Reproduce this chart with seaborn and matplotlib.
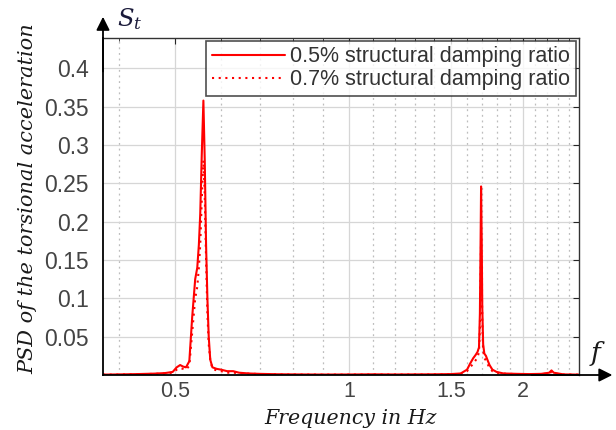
import numpy as np
import pandas as pd
import matplotlib
matplotlib.use("Agg")
import matplotlib.pyplot as plt
from matplotlib.ticker import FixedLocator, NullFormatter
import seaborn as sns

# Frequency grid (Hz) and PSD of the torsional acceleration for two damping ratios
freq = [0.375, 0.40, 0.43, 0.46, 0.48, 0.495, 0.503, 0.510, 0.516, 0.522,
        0.529, 0.535, 0.5415, 0.546, 0.5495, 0.5525, 0.556, 0.5595, 0.5625, 0.5655,
        0.5685, 0.5715, 0.575, 0.58, 0.59, 0.60, 0.615, 0.63, 0.645, 0.67,
        0.70, 0.75, 0.80, 0.90, 1.00, 1.10, 1.20, 1.30, 1.40, 1.50,
        1.56, 1.60, 1.62, 1.64, 1.655, 1.668, 1.678, 1.684, 1.689, 1.692,
        1.696, 1.700, 1.706, 1.714, 1.725, 1.735, 1.75, 1.77, 1.80, 1.85,
        1.95, 2.05, 2.15, 2.22, 2.24, 2.26, 2.35, 2.50]
psd_05 = [0.0005, 0.0008, 0.0012, 0.0018, 0.0025, 0.004, 0.010, 0.013, 0.011, 0.010,
          0.018, 0.075, 0.125, 0.140, 0.170, 0.210, 0.290, 0.358, 0.280, 0.170,
          0.100, 0.050, 0.020, 0.010, 0.008, 0.007, 0.005, 0.005, 0.003, 0.002,
          0.0015, 0.001, 0.0008, 0.0006, 0.0007, 0.0009, 0.0007, 0.0008, 0.0009, 0.0012,
          0.002, 0.007, 0.015, 0.022, 0.026, 0.030, 0.036, 0.080, 0.180, 0.246,
          0.180, 0.090, 0.040, 0.028, 0.025, 0.020, 0.013, 0.007, 0.004, 0.002,
          0.0015, 0.0012, 0.0015, 0.003, 0.006, 0.003, 0.0008, 0.0005]
psd_07 = [0.0004, 0.0006, 0.001, 0.0015, 0.002, 0.003, 0.007, 0.009, 0.008, 0.007,
          0.012, 0.055, 0.100, 0.115, 0.140, 0.170, 0.230, 0.280, 0.235, 0.150,
          0.080, 0.040, 0.020, 0.008, 0.006, 0.005, 0.003, 0.003, 0.0025, 0.0018,
          0.0012, 0.0008, 0.0006, 0.0005, 0.0005, 0.0007, 0.0006, 0.0006, 0.0007, 0.001,
          0.0015, 0.005, 0.010, 0.015, 0.019, 0.023, 0.030, 0.060, 0.130, 0.180,
          0.130, 0.070, 0.032, 0.022, 0.019, 0.015, 0.009, 0.005, 0.003, 0.0018,
          0.0012, 0.001, 0.0012, 0.002, 0.004, 0.002, 0.0006, 0.0004]
series_labels = ["0.5% structural damping ratio", "0.7% structural damping ratio"]

major_ticks = [0.5, 1, 1.5, 2]
major_labels = ["0.5", "1", "1.5", "2"]
minor_ticks = [0.4, 0.6, 0.7, 0.8, 0.9, 1.1, 1.2, 1.3, 1.4, 1.6, 1.7, 1.8, 1.9,
               2.1, 2.2, 2.3, 2.4]
y_ticks = [0.05, 0.1, 0.15, 0.2, 0.25, 0.3, 0.35, 0.4]
y_labels = ["0.05", "0.1", "0.15", "0.2", "0.25", "0.3", "0.35", "0.4"]

df = pd.DataFrame({
    "freq": freq * 2,
    "psd": psd_05 + psd_07,
    "series": [series_labels[0]] * len(freq) + [series_labels[1]] * len(freq),
})

sns.set_theme(style="white")
plt.rcParams["font.family"] = ["Liberation Sans", "DejaVu Sans"]
plt.rcParams["mathtext.fontset"] = "dejavuserif"

fig = plt.figure(figsize=(6.16, 4.30), dpi=100)
ax = fig.add_axes([0.1672, 0.1279, 0.7728, 0.7844])

sns.lineplot(data=df, x="freq", y="psd", hue="series", style="series",
             palette=["#ff0000", "#ff0000"],
             dashes=[(None, None), (1, 2.2)],
             estimator=None, sort=False, linewidth=1.5, ax=ax)

ax.set_xscale("log")
ax.set_xlim(0.375, 2.5)
ax.set_ylim(0, 0.44)

ax.xaxis.set_major_locator(FixedLocator(major_ticks))
ax.set_xticklabels(major_labels)
ax.xaxis.set_minor_locator(FixedLocator(minor_ticks))
ax.xaxis.set_minor_formatter(NullFormatter())
ax.set_yticks(y_ticks)
ax.set_yticklabels(y_labels)

ax.grid(which="major", axis="both", color="#d6d6d6", linewidth=0.9, linestyle="-")
ax.grid(which="minor", axis="x", color="#bdbdbd", linewidth=0.9, linestyle=(0, (1.5, 3)))
ax.set_axisbelow(True)

ax.tick_params(axis="both", which="both", direction="in", top=True, right=True,
               colors="#262626", labelcolor="#444444", labelsize=16.5)
ax.tick_params(axis="x", which="major", labelsize=15.5)
ax.tick_params(axis="both", which="major", length=4, width=0.8)
ax.tick_params(axis="x", which="minor", length=2.5, width=0.6)
ax.tick_params(axis="x", which="major", pad=4.5)
ax.tick_params(axis="y", which="major", pad=10)

for side in ["top", "right"]:
    ax.spines[side].set_color("#333333")
    ax.spines[side].set_linewidth(1.0)
for side in ["left", "bottom"]:
    ax.spines[side].set_color("#000000")
    ax.spines[side].set_linewidth(1.3)

# Axis arrows with their symbols
arrow = dict(arrowstyle="-|>", color="black", lw=1.3, mutation_scale=20,
             shrinkA=0, shrinkB=0)
ax.annotate("", xy=(0, 1.062), xytext=(0, 0.9), xycoords="axes fraction",
            textcoords="axes fraction", arrowprops=arrow, annotation_clip=False)
ax.annotate("", xy=(1.07, 0), xytext=(0.9, 0), xycoords="axes fraction",
            textcoords="axes fraction", arrowprops=arrow, annotation_clip=False)
ax.text(0.03, 1.055, r"$S_t$", transform=ax.transAxes, fontsize=17.5,
        va="center", ha="left", color="#1a1a3a")
ax.text(1.04, 0.065, r"$f$", transform=ax.transAxes, fontsize=19,
        va="center", ha="center", color="#1a1a1a")

ax.set_xlabel("Frequency in Hz", fontsize=14.8, family="DejaVu Serif",
              style="italic", color="#1a1a1a")
ax.set_ylabel("PSD of the torsional acceleration", fontsize=15,
              family="DejaVu Serif", style="italic", color="#1a1a1a")
ax.xaxis.label.set_va("center")
ax.yaxis.label.set_va("center")
ax.xaxis.set_label_coords(0.52, -0.128)
ax.yaxis.set_label_coords(-0.158, 0.522)

leg = ax.legend(loc="upper right", bbox_to_anchor=(1.0, 1.0), borderaxespad=0.15,
                fontsize=15.5, frameon=True, fancybox=False, handlelength=3.4,
                handletextpad=0.25, labelspacing=0.1, borderpad=0.25)
leg.get_frame().set_edgecolor("#222222")
leg.get_frame().set_linewidth(1.2)
for t in leg.get_texts():
    t.set_color("#333333")

fig.savefig("out.png", dpi=100, facecolor="white")
